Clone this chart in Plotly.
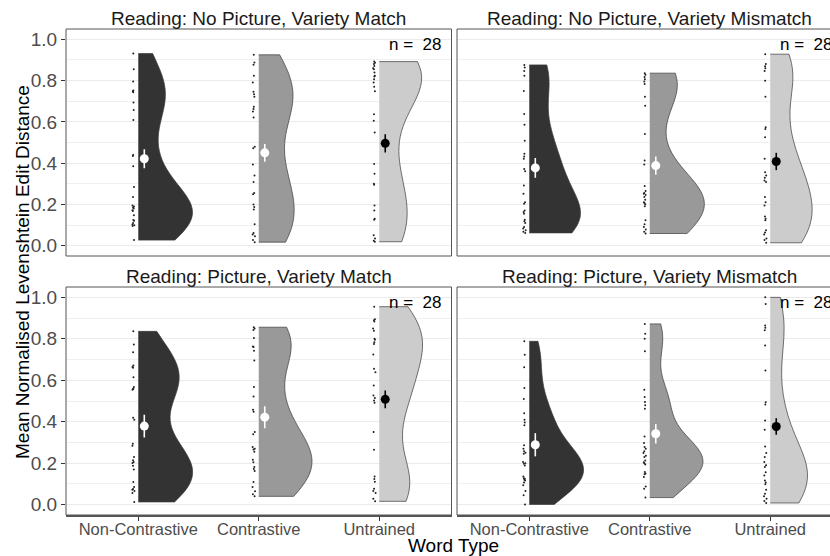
import numpy as np
import plotly.graph_objects as go

# ---------------- data ----------------
CATEGORIES = ["Non-Contrastive", "Contrastive", "Untrained"]
PANEL_TITLES = [
    "Reading: No Picture, Variety Match",
    "Reading: No Picture, Variety Mismatch",
    "Reading: Picture, Variety Match",
    "Reading: Picture, Variety Mismatch",
]
N_LABEL = "n\u00a0=\u00a0\u00a028"

np_match_noncontrastive = [0.931, 0.855, 0.796, 0.752, 0.748, 0.744, 0.694, 0.657, 0.609, 0.440,
                           0.434, 0.385, 0.284, 0.236, 0.195, 0.190, 0.185, 0.180, 0.172, 0.168,
                           0.147, 0.125, 0.121, 0.110, 0.103, 0.099, 0.095, 0.027]
np_match_contrastive = [0.925, 0.888, 0.877, 0.824, 0.791, 0.746, 0.734, 0.722, 0.673, 0.662,
                        0.650, 0.621, 0.480, 0.472, 0.393, 0.340, 0.308, 0.255, 0.249, 0.199,
                        0.188, 0.175, 0.104, 0.062, 0.054, 0.046, 0.027, 0.017]
np_match_untrained = [0.892, 0.887, 0.880, 0.871, 0.860, 0.855, 0.839, 0.823, 0.820, 0.807,
                      0.791, 0.770, 0.748, 0.637, 0.605, 0.549, 0.396, 0.348, 0.300, 0.295,
                      0.195, 0.171, 0.131, 0.126, 0.051, 0.035, 0.024, 0.019]

np_mismatch_noncontrastive = [0.876, 0.863, 0.847, 0.823, 0.750, 0.638, 0.586, 0.509, 0.445, 0.432,
                              0.421, 0.372, 0.361, 0.292, 0.252, 0.210, 0.203, 0.171, 0.163, 0.155,
                              0.126, 0.118, 0.110, 0.091, 0.083, 0.075, 0.067, 0.062]
np_mismatch_contrastive = [0.836, 0.828, 0.818, 0.807, 0.796, 0.783, 0.722, 0.678, 0.541, 0.413,
                           0.393, 0.289, 0.265, 0.255, 0.252, 0.246, 0.236, 0.223, 0.210, 0.207,
                           0.201, 0.191, 0.123, 0.104, 0.091, 0.078, 0.067, 0.059]
np_mismatch_untrained = [0.928, 0.880, 0.870, 0.860, 0.847, 0.799, 0.722, 0.574, 0.566, 0.525,
                         0.421, 0.356, 0.340, 0.329, 0.316, 0.308, 0.236, 0.211, 0.195, 0.142,
                         0.131, 0.123, 0.075, 0.064, 0.054, 0.035, 0.027, 0.014]

p_match_noncontrastive = [0.836, 0.772, 0.735, 0.671, 0.664, 0.660, 0.615, 0.567, 0.560, 0.558,
                          0.554, 0.419, 0.409, 0.294, 0.284, 0.230, 0.214, 0.206, 0.201, 0.188,
                          0.169, 0.109, 0.085, 0.075, 0.072, 0.066, 0.056, 0.013]
p_match_contrastive = [0.856, 0.850, 0.843, 0.804, 0.763, 0.760, 0.743, 0.695, 0.567, 0.522,
                       0.458, 0.448, 0.350, 0.340, 0.278, 0.270, 0.266, 0.255, 0.216, 0.204,
                       0.181, 0.172, 0.162, 0.109, 0.085, 0.064, 0.050, 0.040]
p_match_untrained = [0.955, 0.895, 0.890, 0.884, 0.850, 0.839, 0.800, 0.795, 0.783, 0.775,
                     0.724, 0.655, 0.639, 0.575, 0.527, 0.514, 0.503, 0.492, 0.350, 0.265,
                     0.136, 0.124, 0.111, 0.077, 0.066, 0.056, 0.029, 0.016]

p_mismatch_noncontrastive = [0.788, 0.723, 0.663, 0.563, 0.510, 0.441, 0.409, 0.396, 0.383, 0.286,
                             0.270, 0.258, 0.250, 0.246, 0.206, 0.200, 0.197, 0.189, 0.136, 0.127,
                             0.125, 0.120, 0.117, 0.107, 0.093, 0.066, 0.045, 0.001]
p_mismatch_contrastive = [0.872, 0.824, 0.800, 0.740, 0.554, 0.519, 0.495, 0.479, 0.463, 0.329,
                          0.297, 0.278, 0.270, 0.258, 0.249, 0.236, 0.230, 0.213, 0.204, 0.200,
                          0.194, 0.157, 0.150, 0.146, 0.133, 0.088, 0.077, 0.034]
p_mismatch_untrained = [1.000, 0.968, 0.864, 0.853, 0.841, 0.768, 0.647, 0.494, 0.483, 0.406,
                        0.361, 0.281, 0.249, 0.230, 0.206, 0.190, 0.181, 0.156, 0.141, 0.117,
                        0.107, 0.098, 0.072, 0.053, 0.040, 0.029, 0.017, 0.008]

# group means and error-bar half widths (per panel, per category)
means_np_match = [0.421, 0.450, 0.496]
means_np_mismatch = [0.377, 0.388, 0.408]
means_p_match = [0.379, 0.422, 0.508]
means_p_mismatch = [0.289, 0.342, 0.377]
errs_np_match = [0.046, 0.043, 0.044]
errs_np_mismatch = [0.048, 0.044, 0.042]
errs_p_match = [0.055, 0.053, 0.043]
errs_p_mismatch = [0.056, 0.047, 0.040]

PANEL_DATA = [
    [np_match_noncontrastive, np_match_contrastive, np_match_untrained],
    [np_mismatch_noncontrastive, np_mismatch_contrastive, np_mismatch_untrained],
    [p_match_noncontrastive, p_match_contrastive, p_match_untrained],
    [p_mismatch_noncontrastive, p_mismatch_contrastive, p_mismatch_untrained],
]
PANEL_MEANS = [means_np_match, means_np_mismatch, means_p_match, means_p_mismatch]
PANEL_ERRS = [errs_np_match, errs_np_mismatch, errs_p_match, errs_p_mismatch]

# ---------------- style ----------------
FONT = "Liberation Sans, Arial, sans-serif"
FILLS = ["#333333", "#999999", "#CCCCCC"]
MEAN_COLORS = ["#FFFFFF", "#FFFFFF", "#000000"]
OUTLINE = "#3A3A3A"
MEAN_NUDGE = 0.05

W, H = 830, 556
ML, MT, MB = 66, 29, 41
PW = W - ML
PH = H - MT - MB
PX_UNIT = 385.5 / 3.2
RIGHT_X0 = 457

x_domains = [[0, 385.5 / PW], [(RIGHT_X0 - ML) / PW, 1]]
x_ranges = [[-0.6, 2.6], [-0.6, -0.6 + (W - RIGHT_X0) / PX_UNIT]]
y_domains = [[(H - MB - 256) / PH, 1], [0, (H - MB - 287) / PH]]


def nrd0(x):
    x = np.asarray(x, dtype=float)
    hi = np.std(x, ddof=1)
    q75, q25 = np.percentile(x, [75, 25])
    lo = min(hi, (q75 - q25) / 1.34)
    if not lo:
        lo = hi or abs(x[0]) or 1.0
    return 0.9 * lo * len(x) ** -0.2


fig = go.Figure()

for p in range(4):
    ax = "" if p == 0 else str(p + 1)
    for i, cat in enumerate(CATEGORIES):
        vals = PANEL_DATA[p][i]
        fig.add_trace(go.Violin(
            x=[i] * len(vals), y=vals, xaxis="x" + ax, yaxis="y" + ax,
            side="positive", spanmode="hard", bandwidth=nrd0(vals),
            scalegroup=f"panel{p}", scalemode="width",
            fillcolor=FILLS[i], line=dict(color=OUTLINE, width=0.7),
            points="all", pointpos=-0.09, jitter=0.03,
            marker=dict(size=2.0, color="#222222"),
            box_visible=False, meanline_visible=False,
            hoverinfo="skip", showlegend=False, name=cat,
        ))
    for i, cat in enumerate(CATEGORIES):
        fig.add_trace(go.Scatter(
            x=[i + MEAN_NUDGE], y=[PANEL_MEANS[p][i]], xaxis="x" + ax, yaxis="y" + ax,
            mode="markers", marker=dict(size=9, color=MEAN_COLORS[i]),
            error_y=dict(type="data", array=[PANEL_ERRS[p][i]], color=MEAN_COLORS[i],
                         thickness=1.6, width=0),
            hoverinfo="skip", showlegend=False,
        ))

layout = dict(
    width=W, height=H, autosize=False,
    margin=dict(l=ML, r=0, t=MT, b=MB),
    paper_bgcolor="white", plot_bgcolor="white",
    violinmode="overlay", violingap=0.1, violingroupgap=0,
    font=dict(family=FONT, color="#000000"),
    showlegend=False,
)

annotations = []
shapes = []
for p in range(4):
    r, c = divmod(p, 2)
    ax = "" if p == 0 else str(p + 1)
    layout["xaxis" + ax] = dict(
        domain=x_domains[c], range=x_ranges[c], anchor="y" + ax,
        tickvals=[0, 1, 2], ticktext=CATEGORIES,
        showgrid=False, zeroline=False,
        ticks="outside" if r == 1 else "", ticklen=4, tickwidth=1, tickcolor="#333333",
        showticklabels=(r == 1), ticklabelstandoff=-6,
        tickfont=dict(family=FONT, size=16.5, color="#4D4D4D"),
        showline=(r == 1), linecolor="#555555", linewidth=1.6,
    )
    layout["yaxis" + ax] = dict(
        domain=y_domains[r], range=[-0.05, 1.05], anchor="x" + ax,
        tick0=0, dtick=0.2, tickformat=".1f",
        showgrid=True, gridcolor="#EBEBEB", gridwidth=1,
        minor=dict(tick0=0, dtick=0.1, showgrid=True, gridcolor="#F0F0F0", gridwidth=0.8),
        zeroline=False,
        ticks="outside" if c == 0 else "", ticklen=4, tickwidth=1, tickcolor="#333333",
        showticklabels=(c == 0),
        tickfont=dict(family=FONT, size=19, color="#4D4D4D"),
    )
    shapes.append(dict(
        type="rect", xref=f"x{ax} domain", yref=f"y{ax} domain",
        x0=0, x1=1 if c == 0 else 1.2, y0=0, y1=1,
        line=dict(color="#555555", width=1), fillcolor="rgba(0,0,0,0)", layer="above",
    ))
    strip_y = (H - MB - 18.3) / PH if r == 0 else (H - MB - 276) / PH
    annotations.append(dict(
        text=PANEL_TITLES[p], xref="x" + ax, yref="paper", x=1, y=strip_y,
        xanchor="center", yanchor="middle", showarrow=False,
        font=dict(family=FONT, size=19, color="#1A1A1A"),
    ))
    annotations.append(dict(
        text=N_LABEL, xref="x" + ax, yref="y" + ax, x=2.3, y=0.976,
        xanchor="center", yanchor="middle", showarrow=False,
        font=dict(family=FONT, size=17, color="#000000"),
    ))

annotations.append(dict(
    text="Word Type", xref="paper", yref="paper",
    x=(453.5 - ML) / PW, y=(H - MB - 545) / PH,
    xanchor="center", yanchor="middle", showarrow=False,
    font=dict(family=FONT, size=19, color="#000000"),
))
annotations.append(dict(
    text="Mean Normalised Levenshtein Edit Distance", xref="paper", yref="paper",
    x=(22 - ML) / PW, y=(H - MB - 272) / PH, textangle=-90,
    xanchor="center", yanchor="middle", showarrow=False,
    font=dict(family=FONT, size=19, color="#000000"),
))

layout["annotations"] = annotations
layout["shapes"] = shapes
fig.update_layout(**layout)

fig.write_html(
    "out.html",
    config={"displayModeBar": False},
    post_script="document.body.style.margin='0px';document.body.style.overflow='hidden';",
)
